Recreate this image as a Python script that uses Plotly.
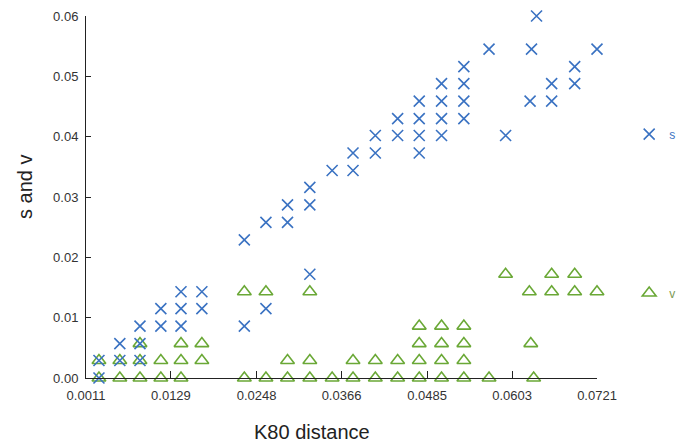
import plotly.graph_objects as go

# K80 distance vs. s values
s_k80 = [0.0029, 0.0029,
         0.0058, 0.0058,
         0.0086, 0.0086, 0.0086,
         0.0115, 0.0115,
         0.0143, 0.0143, 0.0143,
         0.0172, 0.0172,
         0.0231, 0.0231,
         0.0261, 0.0261,
         0.0291, 0.0291,
         0.0322, 0.0322, 0.0322,
         0.0353,
         0.0382, 0.0382,
         0.0413, 0.0413,
         0.0444, 0.0444,
         0.0474, 0.0474, 0.0474, 0.0474,
         0.0505, 0.0505, 0.0505, 0.0505,
         0.0536, 0.0536, 0.0536, 0.0536,
         0.0571,
         0.0594,
         0.0628, 0.0630, 0.0637,
         0.0658, 0.0658,
         0.0690, 0.0690,
         0.0721]
s_val = [0.0, 0.0029,
         0.0029, 0.0057,
         0.0029, 0.0057, 0.0086,
         0.0086, 0.0115,
         0.0086, 0.0115, 0.0143,
         0.0115, 0.0143,
         0.0086, 0.0229,
         0.0115, 0.0258,
         0.0258, 0.0287,
         0.0172, 0.0287, 0.0316,
         0.0344,
         0.0344, 0.0373,
         0.0373, 0.0402,
         0.0402, 0.0430,
         0.0373, 0.0402, 0.0430, 0.0459,
         0.0402, 0.0430, 0.0459, 0.0488,
         0.0430, 0.0459, 0.0488, 0.0516,
         0.0545,
         0.0402,
         0.0459, 0.0545, 0.0600,
         0.0459, 0.0488,
         0.0488, 0.0516,
         0.0545]

# K80 distance vs. v values
v_k80 = [0.0029, 0.0029,
         0.0058, 0.0058,
         0.0086, 0.0086, 0.0086,
         0.0115, 0.0115,
         0.0143, 0.0143, 0.0143,
         0.0172, 0.0172,
         0.0231, 0.0231,
         0.0261, 0.0261,
         0.0291, 0.0291,
         0.0322, 0.0322, 0.0322,
         0.0353,
         0.0382, 0.0382,
         0.0413, 0.0413,
         0.0444, 0.0444,
         0.0474, 0.0474, 0.0474, 0.0474,
         0.0505, 0.0505, 0.0505, 0.0505,
         0.0536, 0.0536, 0.0536, 0.0536,
         0.0571,
         0.0594,
         0.0633, 0.0629, 0.0627,
         0.0658, 0.0658,
         0.0690, 0.0690,
         0.0721]
v_val = [0.0, 0.0029,
         0.0, 0.0029,
         0.0, 0.0029, 0.0057,
         0.0, 0.0029,
         0.0, 0.0029, 0.0057,
         0.0029, 0.0057,
         0.0, 0.0143,
         0.0, 0.0143,
         0.0, 0.0029,
         0.0, 0.0029, 0.0143,
         0.0,
         0.0, 0.0029,
         0.0, 0.0029,
         0.0, 0.0029,
         0.0, 0.0029, 0.0057, 0.0086,
         0.0, 0.0029, 0.0057, 0.0086,
         0.0, 0.0029, 0.0057, 0.0086,
         0.0,
         0.0172,
         0.0, 0.0057, 0.0143,
         0.0143, 0.0172,
         0.0143, 0.0172,
         0.0143]

x_ticks = [0.0011, 0.0129, 0.0248, 0.0366, 0.0485, 0.0603, 0.0721]
x_tick_text = ["0.0011", "0.0129", "0.0248", "0.0366", "0.0485", "0.0603", "0.0721"]
y_ticks = [0.00, 0.01, 0.02, 0.03, 0.04, 0.05, 0.06]
y_tick_text = ["0.00", "0.01", "0.02", "0.03", "0.04", "0.05", "0.06"]

BLUE = "#3a72c2"
GREEN = "#6aa836"
FONT = "Liberation Sans, Arial, sans-serif"

fig = go.Figure()
fig.add_trace(go.Scatter(
    x=v_k80, y=v_val, mode="markers", name="v", legend="legend2",
    cliponaxis=False,
    marker=dict(symbol="triangle-up-open", size=12, color=GREEN,
                line=dict(width=1.6, color=GREEN)),
))
fig.add_trace(go.Scatter(
    x=s_k80, y=s_val, mode="markers", name="s", legend="legend",
    cliponaxis=False,
    marker=dict(symbol="x-thin", size=11, color=BLUE,
                line=dict(width=1.6, color=BLUE)),
))

fig.update_layout(
    width=678, height=444,
    margin=dict(l=86, r=81, t=16, b=66, autoexpand=False),
    paper_bgcolor="white", plot_bgcolor="white",
    font=dict(family=FONT, size=13, color="#333333"),
    showlegend=True,
    legend=dict(xref="container", yref="container",
                x=0.928, y=0.698, xanchor="left", yanchor="middle",
                bgcolor="rgba(0,0,0,0)", borderwidth=0,
                font=dict(size=12, color=BLUE, family=FONT)),
    legend2=dict(xref="container", yref="container",
                 x=0.928, y=0.340, xanchor="left", yanchor="middle",
                 bgcolor="rgba(0,0,0,0)", borderwidth=0,
                 font=dict(size=12, color="#7d9a55", family=FONT)),
    xaxis=dict(range=[0.0011, 0.0721], tickvals=x_ticks, ticktext=x_tick_text,
               ticks="inside", ticklen=7, tickwidth=1, tickcolor="#222222",
               showline=True, linecolor="#222222", linewidth=1,
               showgrid=False, zeroline=False, ticklabelstandoff=5,
               tickfont=dict(size=13, color="#333333")),
    yaxis=dict(range=[0.0, 0.06], tickvals=y_ticks, ticktext=y_tick_text,
               ticks="inside", ticklen=5, tickwidth=1, tickcolor="#222222",
               showline=True, linecolor="#222222", linewidth=1,
               showgrid=False, zeroline=False, ticklabelstandoff=4,
               tickfont=dict(size=13, color="#333333")),
    annotations=[
        dict(text="K80 distance", xref="paper", yref="paper",
             x=0.4423, y=-0.149, xanchor="center", yanchor="middle",
             showarrow=False, font=dict(size=20, color="#222222", family=FONT)),
        dict(text="s and v", xref="paper", yref="paper", textangle=-90,
             x=-0.1194, y=0.5276, xanchor="center", yanchor="middle",
             showarrow=False, font=dict(size=20, color="#222222", family=FONT)),
    ],
)

fig.write_html("out.html")
